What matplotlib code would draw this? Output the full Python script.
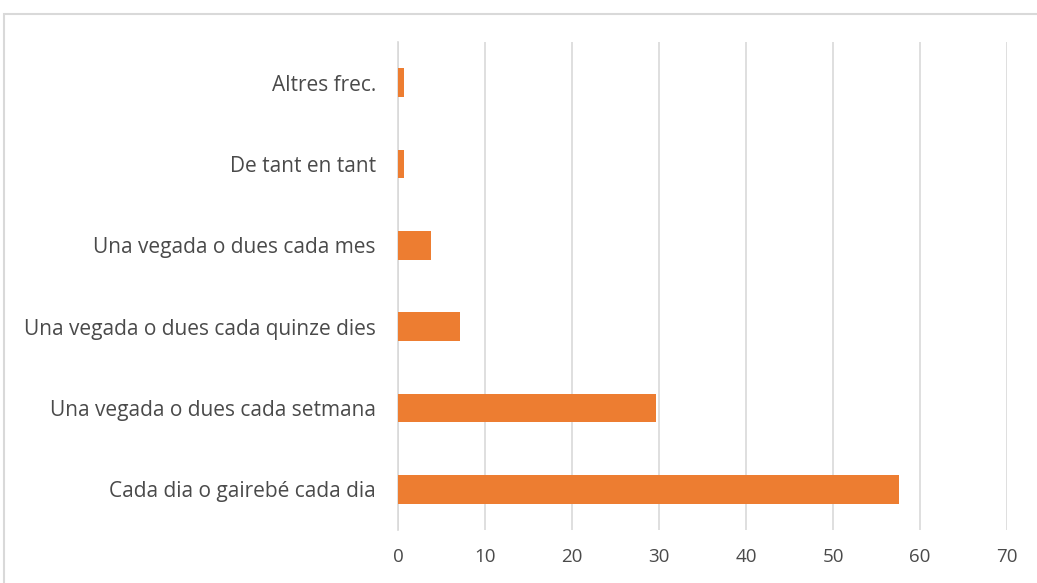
import matplotlib.pyplot as plt
from matplotlib.patches import Rectangle

categories = [
    "Cada dia o gairebé cada dia",
    "Una vegada o dues cada setmana",
    "Una vegada o dues cada quinze dies",
    "Una vegada o dues cada mes",
    "De tant en tant",
    "Altres frec.",
]
values = [57.6, 29.6, 7.1, 3.8, 0.7, 0.7]
xticks = [0, 10, 20, 30, 40, 50, 60, 70]

plt.rcParams["font.family"] = ["Open Sans", "DejaVu Sans"]

fig = plt.figure(figsize=(10.37, 5.83), dpi=100)
ax = fig.add_axes([0.3838, 0.0909, 0.5873, 0.8370])

# chart frame (light gray, left/top edges visible)
fig.patches.append(Rectangle((4 / 1037, -0.2), 1.2, 1.2 - 14 / 583,
                             transform=fig.transFigure, fill=False,
                             edgecolor="#d9d9d9", linewidth=1.5))

y = range(len(categories))
ax.barh(y, values, height=0.35, color="#ed7d31", zorder=3)

ax.set_xlim(0, 70)
ax.set_ylim(-0.5, len(categories) - 0.5)
ax.set_xticks(xticks)
ax.set_yticks(list(y))
ax.set_yticklabels(categories)
ax.grid(axis="x", color="#d9d9d9", linewidth=1.2, zorder=0)

for s in ["top", "right", "bottom"]:
    ax.spines[s].set_visible(False)
ax.spines["left"].set_color("#d9d9d9")
ax.spines["left"].set_linewidth(1.2)

ax.tick_params(axis="both", length=0, labelcolor="#4a4a4a")
ax.tick_params(axis="y", pad=16, labelsize=15)
ax.tick_params(axis="x", pad=13, labelsize=13.5)

fig.savefig("out.png", dpi=100)
